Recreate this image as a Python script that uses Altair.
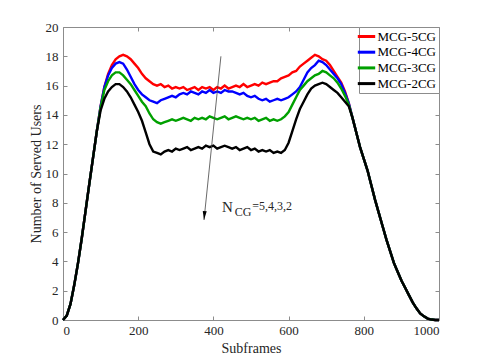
import altair as alt
import pandas as pd

series_names = ["MCG-5CG", "MCG-4CG", "MCG-3CG", "MCG-2CG"]
series_colors = ["#ff0000", "#0000ff", "#00a000", "#000000"]

# common rising part (subframes 0..90)
rise_x = list(range(0, 100, 10))
rise_y = [0.0, 0.3, 1.1, 2.4, 3.9, 5.6, 7.45, 9.3, 11.1, 12.9]

# per-series middle part (subframes 100..760)
mid_x = list(range(100, 770, 10))
mcg5 = [14.6, 15.9, 16.8, 17.4, 17.8, 18.0, 18.1, 18.0, 17.8, 17.5,
        17.2, 16.8, 16.5, 16.3, 16.1, 16.0, 16.1, 15.9, 16.0, 15.8,
        15.9, 15.8, 15.9, 15.7, 15.8, 15.9, 15.7, 15.9, 15.8, 15.9,
        15.7, 15.9, 15.8, 16.0, 15.8, 15.9, 16.0, 15.9, 16.1, 15.9,
        16.0, 16.1, 16.0, 16.2, 16.1, 16.2, 16.3, 16.3, 16.5, 16.6,
        16.7, 16.9, 17.0, 17.3, 17.5, 17.7, 17.9, 18.1, 18.0, 17.8,
        17.7, 17.4, 17.0, 16.6, 16.2, 15.6, 14.8]
mcg4 = [14.6, 15.9, 16.7, 17.2, 17.5, 17.6, 17.5, 17.1, 16.6, 16.1,
        15.7, 15.4, 15.2, 15.0, 14.9, 14.8, 15.0, 15.1, 15.2, 15.3,
        15.2, 15.4, 15.5, 15.4, 15.6, 15.5, 15.4, 15.6, 15.5, 15.7,
        15.5, 15.6, 15.5, 15.7, 15.6, 15.6, 15.5, 15.4, 15.5, 15.3,
        15.2, 15.3, 15.1, 15.0, 15.1, 14.9, 15.0, 15.1, 15.0, 15.1,
        15.2, 15.4, 15.6, 15.9, 16.4, 16.9, 17.2, 17.4, 17.7, 17.6,
        17.4, 17.1, 16.8, 16.5, 16.1, 15.5, 14.8]
mcg3 = [14.5, 15.7, 16.3, 16.7, 16.9, 16.9, 16.7, 16.4, 16.1, 15.7,
        15.3, 14.9, 14.6, 14.1, 13.7, 13.5, 13.4, 13.5, 13.6, 13.7,
        13.6, 13.7, 13.8, 13.7, 13.6, 13.8, 13.7, 13.8, 13.7, 13.9,
        13.8, 13.7, 13.8, 13.9, 13.7, 13.8, 13.9, 13.8, 13.7, 13.8,
        13.7, 13.8, 13.6, 13.7, 13.8, 13.6, 13.7, 13.6, 13.7, 13.9,
        14.2, 14.7, 15.2, 15.7, 16.0, 16.3, 16.5, 16.7, 16.8, 17.0,
        16.9, 16.7, 16.5, 16.2, 15.8, 15.3, 14.7]
mcg2 = [14.3, 15.1, 15.6, 15.9, 16.1, 16.1, 15.9, 15.6, 15.2, 14.7,
        14.2, 13.6, 12.8, 12.0, 11.5, 11.4, 11.3, 11.5, 11.6, 11.5,
        11.7, 11.6, 11.7, 11.8, 11.6, 11.7, 11.8, 11.7, 11.9, 11.8,
        11.9, 11.7, 11.8, 11.9, 11.8, 11.7, 11.8, 11.6, 11.7, 11.8,
        11.6, 11.7, 11.5, 11.6, 11.5, 11.6, 11.4, 11.5, 11.4, 11.6,
        12.1, 12.9, 13.7, 14.4, 14.9, 15.4, 15.8, 16.0, 16.1, 16.2,
        16.1, 15.9, 15.7, 15.5, 15.2, 14.9, 14.6]

# common falling part (subframes 770..1000)
fall_x = list(range(770, 1010, 10))
fall_y = [13.8, 12.8, 11.8, 11.0, 10.2, 9.2, 8.2, 7.3, 6.4, 5.5,
          4.7, 3.9, 3.3, 2.7, 2.2, 1.7, 1.2, 0.8, 0.45, 0.25,
          0.1, 0.03, 0.0, 0.0]

x_ticks = [0, 200, 400, 600, 800, 1000]
y_ticks = [0, 2, 4, 6, 8, 10, 12, 14, 16, 18, 20]

mids = [mcg5, mcg4, mcg3, mcg2]
rows = []
for name, mid in zip(series_names, mids):
    for xv, yv in zip(rise_x + mid_x + fall_x, rise_y + mid + fall_y):
        rows.append({"x": xv, "y": yv, "series": name})
df = pd.DataFrame(rows)

FONT = "Liberation Serif"
AX = "#8c8c8c"
TXT = "#262626"

xs = alt.Scale(domain=[0, 1000], nice=False, zero=False)
ys = alt.Scale(domain=[0, 20], nice=False, zero=False)
cs = alt.Scale(domain=series_names, range=series_colors)

common_axis = dict(labelFont=FONT, titleFont=FONT, labelFontSize=13, titleFontSize=14,
                   titleFontWeight="normal", labelColor=TXT, titleColor=TXT,
                   tickColor=AX, domain=False, grid=False, offset=-4, tickSize=4)

axis_bottom = alt.Axis(orient="bottom", values=x_ticks, labelPadding=4,
                       title="Subframes", titlePadding=4, format="d", **common_axis)
axis_left = alt.Axis(orient="left", values=y_ticks, labelPadding=5,
                     title="Number of Served Users", titlePadding=2, format="d", **common_axis)
axis_top = alt.Axis(orient="top", values=x_ticks, labels=False, title=None, **common_axis)
axis_right = alt.Axis(orient="right", values=y_ticks, labels=False, title=None, **common_axis)

legend = alt.Legend(title=None, orient="top-right", offset=0, fillColor="white",
                    strokeColor=AX, padding=2, symbolType="M-1.45,0H1.45", symbolSize=144,
                    symbolOffset=-2, symbolStrokeWidth=3, labelFont=FONT, labelFontSize=13,
                    labelColor="black", labelOffset=3.5, rowPadding=0.7)

layers = []
for i, name in enumerate(series_names):
    layers.append(
        alt.Chart(df[df.series == name]).mark_line(strokeWidth=2.4).encode(
            x=alt.X("x:Q", scale=xs, axis=axis_bottom if i == 0 else None),
            y=alt.Y("y:Q", scale=ys, axis=axis_left if i == 0 else None),
            color=alt.Color("series:N", scale=cs, legend=legend if i == 0 else None),
        )
    )

arrow_df = pd.DataFrame({"x": [420], "y": [18.0], "x2": [375], "y2": [6.83]})
arrow = alt.Chart(arrow_df).mark_rule(color="#444444", strokeWidth=0.8).encode(
    x=alt.X("x:Q", scale=xs, axis=axis_top),
    y=alt.Y("y:Q", scale=ys, axis=axis_right),
    x2="x2:Q", y2="y2:Q",
)
head_df = pd.DataFrame({"x": [376], "y": [7.13]})
head = alt.Chart(head_df).mark_point(
    shape="M0,1L-0.45,-1L0.45,-1Z", filled=True, color="black", size=80, angle=5, opacity=1
).encode(x=alt.X("x:Q", scale=xs, axis=None), y=alt.Y("y:Q", scale=ys, axis=None))

ann_df = pd.DataFrame({
    "x": [423, 457, 503],
    "y": [7.37, 7.1, 7.5],
    "t": ["N", "CG", "=5,4,3,2"],
    "s": [15, 12, 12],
})
ann = alt.Chart(ann_df).mark_text(align="left", baseline="alphabetic", font=FONT, color=TXT).encode(
    x=alt.X("x:Q", scale=xs, axis=None),
    y=alt.Y("y:Q", scale=ys, axis=None),
    text="t:N",
    size=alt.Size("s:Q", scale=None, legend=None),
)

chart = alt.layer(*layers, arrow, head, ann).resolve_axis(
    x="independent", y="independent"
).properties(
    width=376, height=293,
    autosize=alt.AutoSizeParams(type="none"),
    padding={"left": 55, "top": 19, "right": 38, "bottom": 36},
).configure_view(
    stroke=AX, strokeWidth=1
).configure_axis(
    grid=False, domain=False, labelFont=FONT, titleFont=FONT, labelFontSize=13,
    titleFontSize=14, titleFontWeight="normal", labelColor=TXT, titleColor=TXT,
    tickColor=AX,
).configure_legend(
    labelFont=FONT
)

chart.save("out.html", embed_options={"renderer": "svg", "actions": False})
